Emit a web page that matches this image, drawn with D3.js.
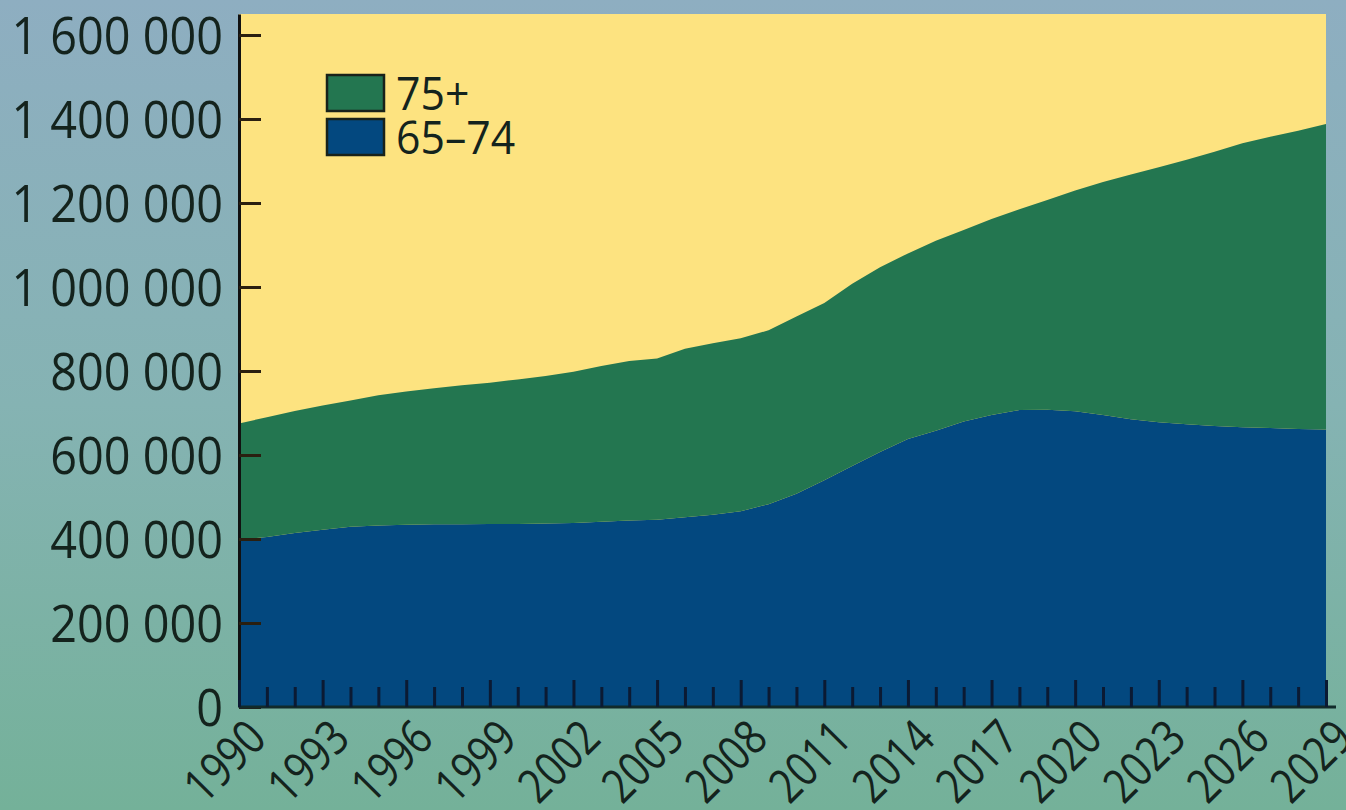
<!DOCTYPE html>
<html>
<head>
<meta charset="utf-8">
<script src="https://cdn.jsdelivr.net/npm/d3@7/dist/d3.min.js"></script>
<style>
  html, body { margin: 0; padding: 0; }
  body { width: 1346px; height: 810px; overflow: hidden; }
  svg text { font-family: "Open Sans", "Noto Sans", "Liberation Sans", sans-serif; fill: #14231d; }
</style>
</head>
<body>
<svg id="chart" width="1346" height="810"></svg>
<script>
// ---- Data ----
const years = d3.range(1990, 2030);
const age65to74 = [
  398000, 405000, 414000, 422000, 429000, 432000, 434000, 435000, 435000, 436000,
  436000, 437000, 438000, 441000, 444000, 446000, 452000, 458000, 466000, 483000,
  508000, 540000, 574000, 607000, 638000, 658000, 680000, 695000, 707000, 708000,
  704000, 695000, 685000, 678000, 673000, 669000, 666000, 664000, 662000, 661000
];
const age75plus = [
  277000, 285000, 291000, 296000, 301000, 310000, 317000, 324000, 331000, 336000,
  344000, 351000, 360000, 371000, 380000, 384000, 401000, 408000, 412000, 414000,
  422000, 422000, 434000, 440000, 442000, 452000, 456000, 467000, 478000, 499000,
  526000, 555000, 583000, 607000, 630000, 653000, 676000, 694000, 710000, 727000
];
const seriesKeys = ["65–74", "75+"];
const legendLabels = ["75+", "65–74"];
const yTicks = [0, 200000, 400000, 600000, 800000, 1000000, 1200000, 1400000, 1600000];
const xLabelYears = d3.range(1990, 2030, 3);

// ---- Setup ----
const svg = d3.select("#chart");
const W = 1346, H = 810;
const colors = { "65–74": "#03487f", "75+": "#237650" };

const defs = svg.append("defs");
const grad = defs.append("linearGradient").attr("id", "bg").attr("x1", 0).attr("y1", 0).attr("x2", 0).attr("y2", 1);
grad.append("stop").attr("offset", "0%").attr("stop-color", "#8eaec1");
grad.append("stop").attr("offset", "50%").attr("stop-color", "#85b3b3");
grad.append("stop").attr("offset", "100%").attr("stop-color", "#74b199");
svg.append("rect").attr("width", W).attr("height", H).attr("fill", "url(#bg)");

const x = d3.scaleLinear().domain([1990, 2029]).range([239, 1326]);
const y = d3.scaleLinear().domain([0, 1650000]).range([707, 14]);

// Plot background
svg.append("rect")
  .attr("x", x(1990)).attr("y", y(1650000))
  .attr("width", x(2029) - x(1990)).attr("height", y(0) - y(1650000))
  .attr("fill", "#fde380");

const table = years.map((yr, i) => ({ year: yr, "65–74": age65to74[i], "75+": age75plus[i] }));
const stacked = d3.stack().keys(seriesKeys)(table);

const area = d3.area()
  .x(d => x(d.data.year))
  .y0(d => y(d[0]))
  .y1(d => y(d[1]))
  .curve(d3.curveLinear);

svg.append("g").selectAll("path")
  .data(stacked)
  .join("path")
  .attr("d", area)
  .attr("fill", d => colors[d.key]);

// ---- Y axis ----
const fmt = d3.formatLocale({ thousands: " ", grouping: [3], decimal: ",", currency: ["", ""] }).format(",d");
const yAxis = d3.axisLeft(y).tickValues(yTicks).tickFormat(fmt)
  .tickSizeInner(-22).tickSizeOuter(0).tickPadding(16);
const gy = svg.append("g").attr("transform", `translate(${x(1990)},0)`).call(yAxis);
gy.select(".domain").attr("stroke", "#111").attr("stroke-width", 3);
gy.selectAll(".tick line").attr("stroke", "#2a1f10").attr("stroke-width", 3);
gy.selectAll(".tick text")
  .attr("font-size", 52).attr("font-family", null).attr("fill", "#14231d")
  .attr("x", 0).attr("dy", "0.36em")
  .attr("transform", "translate(-16,0) scale(0.9,1)");

// ---- X axis ----
const xAxis = d3.axisBottom(x).tickValues(years)
  .tickFormat(d => (xLabelYears.includes(d) ? String(d) : ""))
  .tickSizeInner(-20).tickSizeOuter(0);
const gx = svg.append("g").attr("transform", `translate(0,${y(0)})`).call(xAxis);
gx.select(".domain").attr("stroke", "#112a2a").attr("stroke-width", 3)
  .attr("d", `M${x(1990)},0H${x(2029) + 10}`);
gx.selectAll(".tick line")
  .attr("stroke", "#0b1a33").attr("stroke-width", 3)
  .attr("y2", d => (xLabelYears.includes(d) ? -27 : -20));
gx.selectAll(".tick text")
  .attr("font-size", 48).attr("font-family", null).attr("fill", "#14231d")
  .attr("x", 0).attr("y", 0).attr("dy", 0)
  .attr("text-anchor", "end")
  .attr("transform", "translate(29,34) rotate(-45) scale(0.83,1)");

// ---- Legend ----
const legend = svg.append("g");
const legendItems = [
  { label: legendLabels[0], color: colors["75+"] },
  { label: legendLabels[1], color: colors["65–74"] }
];
legendItems.forEach((it, i) => {
  const top = 75 + i * 44;
  legend.append("rect").attr("x", 327).attr("y", top).attr("width", 57).attr("height", 36)
    .attr("fill", it.color).attr("stroke", "#18221a").attr("stroke-width", 2.5);
  legend.append("text")
    .attr("transform", `translate(396,${top + 35}) scale(0.93,1)`)
    .attr("font-size", 46)
    .text(it.label);
});
</script>
</body>
</html>
